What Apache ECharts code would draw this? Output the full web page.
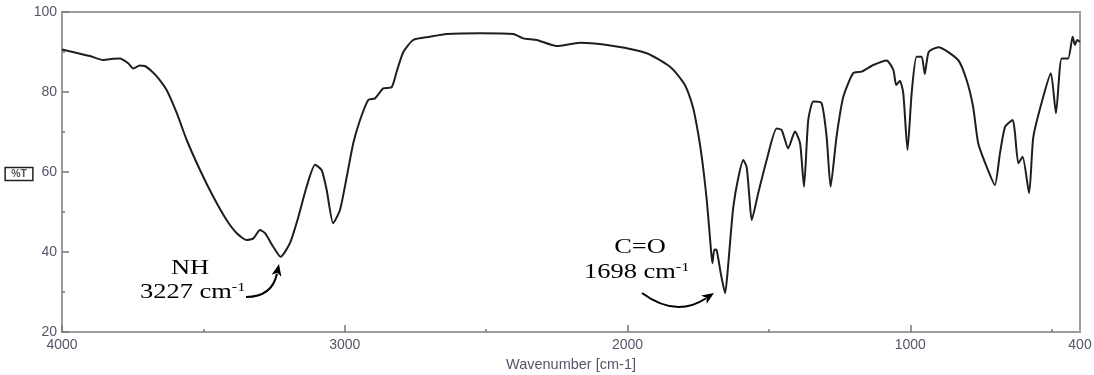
<!DOCTYPE html>
<html>
<head>
<meta charset="utf-8">
<script src="https://cdn.jsdelivr.net/npm/echarts@6/dist/echarts.min.js"></script>
<style>html,body{margin:0;padding:0;background:#fff}#c{width:1094px;height:375px}</style>
</head>
<body>
<div id="c"></div>
<script>
// Wavenumber (cm-1) and transmittance (%T)
var wavenumber = [4000,3950,3901,3854,3820,3795,3766,3748,3725,3707,3680,3659,3630,3594,3559,3512,3465,3418,3382,3347,3323,3300,3282,3253,3227,3194,3164,3135,3105,3082,3064,3041,3017,2993,2970,2946,2917,2893,2864,2834,2816,2793,2758,2699,2640,2522,2404,2369,2321,2251,2168,2050,1932,1850,1803,1785,1768,1755,1742,1730,1720,1712,1705,1700,1693,1685,1670,1655,1645,1635,1626,1610,1591,1579,1570,1561,1538,1508,1473,1455,1432,1408,1390,1376,1361,1343,1314,1296,1282,1261,1237,1202,1172,1131,1084,1060,1050,1037,1025,1010,995,978,960,949,935,901,831,801,778,760,730,701,683,665,638,630,618,603,580,565,530,503,485,465,442,426,418,410,400];
var transmittance = [90.6,89.8,89.0,88.0,88.3,88.4,87.2,85.9,86.6,86.5,85.0,83.4,80.5,74.7,68.0,60.5,53.8,48.0,44.7,43.0,43.4,45.5,44.7,41.3,38.8,42.2,48.8,56.3,61.8,60.5,55.5,47.2,50.5,58.8,67.2,73.0,78.0,78.4,80.9,81.2,85.2,90.0,93.0,93.8,94.5,94.7,94.5,93.4,93.0,91.5,92.3,91.5,89.7,86.3,82.4,79.8,76.0,71.5,66.0,59.5,53.0,46.5,40.5,37.2,40.6,40.5,34.5,29.7,36.0,44.5,51.3,58.0,63.0,61.3,54.5,48.0,54.7,63.0,70.9,70.5,65.9,70.1,67.2,56.3,73.0,77.6,77.2,68.8,56.3,68.8,78.8,84.7,85.1,86.75,87.9,85.5,81.75,82.8,79.7,65.5,80.0,88.8,88.8,84.5,90.0,91.2,88.0,83.0,76.3,67.2,61.3,56.75,64.7,71.3,73.0,69.7,62.2,63.8,54.7,68.8,78.8,84.7,74.7,88.4,88.4,93.8,91.75,93.0,92.5];
var xLabelValues = [4000,3000,2000,1000,400];
var xMajorTicks = [4000,3000,2000,1000];
var xMinorTicks = [3500,2500,1500,500];

var chart = echarts.init(document.getElementById('c'));
var axisGray = '#9c9c9c';
var labelStyle = {color:'#555566', fontFamily:'Liberation Sans, Arial', fontSize:14};

function arrow(x0,y0,cx,cy,x1,y1){
  var dx = x1-cx, dy = y1-cy, L = Math.sqrt(dx*dx+dy*dy);
  var ux = dx/L, uy = dy/L, hl = 12, hw = 5;
  var bx = x1-ux*hl, by = y1-uy*hl;
  return [
    {type:'bezierCurve', shape:{x1:x0,y1:y0,cpx1:cx,cpy1:cy,x2:bx+ux*2,y2:by+uy*2}, style:{stroke:'#000',lineWidth:2,fill:null}},
    {type:'polygon', shape:{points:[[x1,y1],[bx-uy*hw,by+ux*hw],[bx+ux*3,by+uy*3],[bx+uy*hw,by-ux*hw]]}, style:{fill:'#000'}}
  ];
}

var serif = '21px "Liberation Serif", "Times New Roman", serif';
var sx = 1.26;
function txt(x,y,t,align){
  return {type:'text', x:x, y:y, scaleX:sx, style:{text:t, font:serif, fill:'#000', textAlign:align||'center', textVerticalAlign:'middle'}};
}
function supTxt(x,y,main){
  return {type:'text', x:x, y:y, scaleX:sx, style:{
    text:'{a|'+main+'}{s|-1}', textAlign:'left', textVerticalAlign:'middle',
    rich:{a:{font:serif, fill:'#000', verticalAlign:'bottom'}, s:{font:'13px "Liberation Serif", serif', fill:'#000', verticalAlign:'top'}}
  }};
}

var graphics = [].concat(
  [{type:'text', x:19, y:174, style:{text:'%T', font:'bold 10.5px "Liberation Sans", Arial', fill:'#555', textAlign:'center', textVerticalAlign:'middle', borderColor:'#222', borderWidth:1.5, padding:[2,6,0,6]}}],
  [txt(190,268,'NH'), supTxt(140,292,'3227 cm'), txt(640,247,'C=O'), supTxt(584,272,'1698 cm')],
  arrow(246,297,272,297,279,264),
  arrow(642,293,676,318,714,293)
);

chart.setOption({
  animation:false,
  backgroundColor:'#fff',
  grid:{left:62, right:14, top:12, bottom:43, containLabel:false, outerBoundsMode:'none', show:true, borderColor:axisGray, borderWidth:2},
  xAxis:[{
    type:'value', inverse:true, min:400, max:4000,
    name:'Wavenumber [cm-1]', nameLocation:'middle', nameGap:25,
    nameTextStyle:{color:'#555566', fontFamily:'Liberation Sans, Arial', fontSize:14.5},
    axisLine:{show:true, lineStyle:{color:axisGray, width:2}},
    axisTick:{show:true, inside:true, length:7, customValues:xMajorTicks, lineStyle:{color:'#777', width:1.5}},
    axisLabel:Object.assign({customValues:xLabelValues, margin:6, formatter:function(v){return String(v);}}, labelStyle),
    splitLine:{show:false}
  },{
    type:'value', inverse:true, min:400, max:4000, position:'bottom',
    axisLine:{show:false},
    axisTick:{show:true, inside:true, length:3, customValues:xMinorTicks, lineStyle:{color:'#777', width:1.5}},
    axisLabel:{show:false}, splitLine:{show:false}
  }],
  yAxis:{
    type:'value', min:20, max:100, interval:20,
    axisLine:{show:true, lineStyle:{color:axisGray, width:2}},
    axisTick:{show:true, inside:true, length:7, lineStyle:{color:'#777', width:1.5}},
    minorTick:{show:true, splitNumber:2, length:3, lineStyle:{color:'#777', width:1.5}},
    axisLabel:Object.assign({margin:5}, labelStyle),
    splitLine:{show:false}
  },
  series:[{
    type:'line', xAxisIndex:0, showSymbol:false, symbol:'none', smooth:0.2,
    lineStyle:{color:'#1e1e1e', width:2},
    data:wavenumber.map(function(w,i){return [w, transmittance[i]];})
  }],
  graphic:graphics
});
</script>
</body>
</html>
